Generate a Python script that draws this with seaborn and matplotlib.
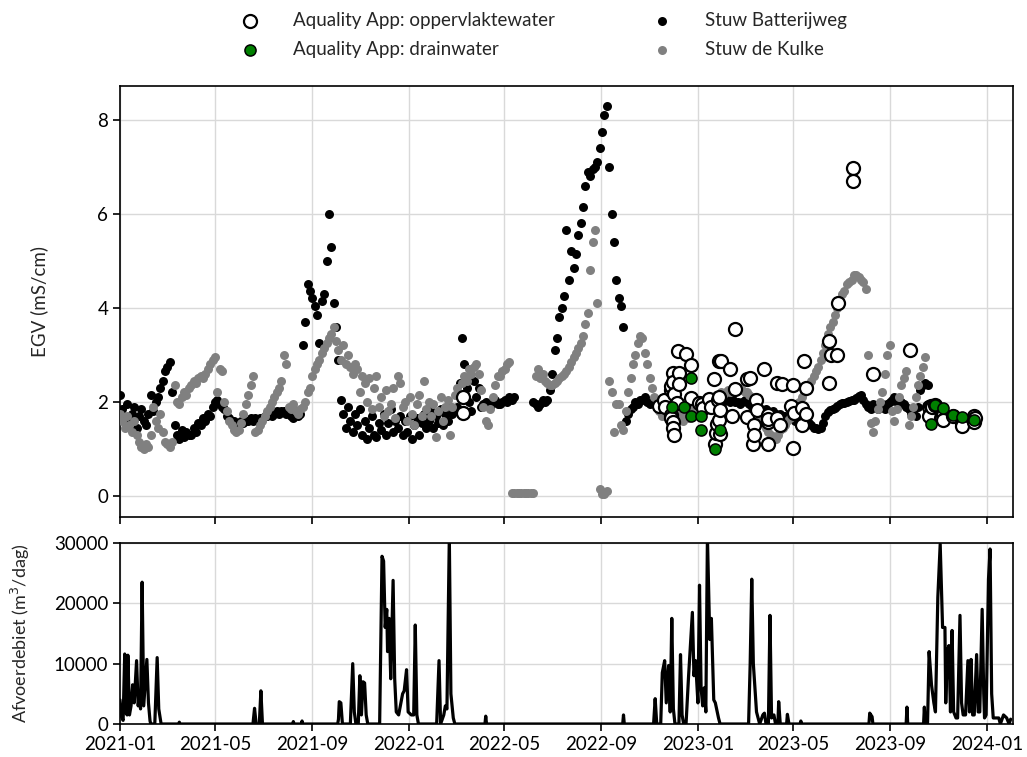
import numpy as np
import pandas as pd
import matplotlib
matplotlib.use("Agg")
import matplotlib.pyplot as plt
import matplotlib.dates as mdates
import seaborn as sns

nan = np.nan

# Stuw Batterijweg: EGV (mS/cm), one reading every 3 days from the start date
batterijweg_start = "2021-01-01"
batterijweg_egv = [
    2.15, 1.85, 1.65, 1.95, 1.55, 1.75, 1.9, 1.45, 1.7, 1.85,
    1.6, 1.5, 1.75, 2.15, 1.8, 2.0, 2.1, 2.3, 2.45, 2.65,
    2.75, 2.85, 2.2, 1.5, 1.3, 1.2, 1.4, 1.25, 1.35, 1.3,
    1.3, 1.45, 1.35, 1.55, 1.5, 1.65, 1.6, 1.75, 1.7, 1.9,
    2.0, 2.05, 1.95, 1.9, 1.85, 1.7, 1.65, 1.6, 1.6, 1.55,
    1.55, 1.6, 1.55, 1.6, 1.6, 1.65, 1.6, 1.65, 1.6, 1.65,
    1.65, 1.7, 1.7, 1.75, 1.7, 1.75, 1.8, 1.75, 1.8, 1.8,
    1.75, 1.8, 1.7, 1.65, 1.8, 1.7, 1.75, 3.2, 3.7, 4.5,
    4.35, 4.2, 4.05, 3.85, 3.25, 4.15, 4.3, 5.0, 6.0, 5.3,
    4.1, 3.6, 2.9, 2.05, 1.75, 1.45, 1.9, 1.6, 1.35, 1.75,
    1.5, 1.85, 1.3, 1.6, 1.2, 1.45, 1.7, 1.3, 1.25, 1.55,
    1.4, 1.75, 1.3, 1.55, 1.85, 1.35, 1.6, 1.45, 1.7, 1.3,
    1.6, 1.35, 1.7, 1.2, 1.5, 1.65, 1.3, 1.55, 1.75, 1.45,
    1.6, 1.8, 1.45, 1.7, 1.55, 1.85, 1.5, 1.75, 1.6, 1.9,
    1.75, 1.8, 1.9, 2.4, 3.35, 2.8, 2.3, 2.0, 1.8, 2.45,
    2.1, 2.3, 1.9, 1.95, 2.0, 1.95, 1.9, 2.0, 2.05, 1.95,
    1.95, 2.0, 2.05, 2.0, 2.1, 2.05, 2.1, nan, nan, nan,
    nan, nan, nan, nan, 2.0, 1.95, 1.9, 1.95, 2.05, 2.0,
    2.05, 2.25, 2.6, 3.1, 3.35, 3.8, 4.0, 4.25, 5.65, 4.6,
    5.2, 4.85, 5.15, 5.55, 5.8, 6.15, 6.6, 6.9, 6.8, 6.95,
    7.0, 7.1, 7.4, 7.75, 8.1, 8.3, 7.0, 6.0, 5.4, 4.6,
    4.2, 4.05, 3.6, 1.6, 1.75, 1.85, 1.9, 2.0, 1.95, 2.05,
    2.05, 2.1, 2.0, 1.95, 2.0, 2.05, 1.9, 1.95, 1.85, 1.9,
    1.9, 1.85, 1.95, 1.9, 1.8, 1.9, 1.95, 1.85, 1.9, 1.95,
    1.9, 1.95, 1.85, 2.0, 1.9, 1.95, 2.0, 1.9, 1.95, 2.0,
    2.0, 2.05, 2.0, 2.05, 2.0, 2.1, 2.05, 2.0, 2.05, 2.0,
    2.0, 1.95, 2.0, 2.05, 2.0, 1.95, 1.9, 1.95, 1.9, 1.85,
    1.85, 1.8, 1.85, 1.8, 1.75, 1.8, 1.75, 1.7, 1.75, 1.7,
    1.7, 1.65, 1.7, 1.65, 1.6, 1.65, 1.6, 1.55, 1.6, 1.55,
    1.55, 1.5, 1.45, 1.45, 1.42, 1.45, 1.55, 1.7, 1.78, 1.82,
    1.85, 1.88, 1.92, 1.95, 1.97, 1.98, 2.0, 2.02, 2.04, 2.05,
    2.08, 2.12, 2.15, 2.05, 1.95, 1.9, 1.85, 1.95, 1.9, 1.85,
    1.9, 1.95, 1.85, 1.95, 2.0, 2.05, 2.1, 2.0, 1.95, 2.0,
    1.95, 1.9, 1.85, 1.75, 1.8, 1.7, 1.9, 2.25, 2.35, 2.4,
    2.35,
]

# Stuw de Kulke: EGV (mS/cm), one reading every 3 days from the start date
kulke_start = "2021-01-01"
kulke_egv = [
    1.75, 1.6, 1.45, 1.7, 1.5, 1.35, 1.6, 1.3, 1.15, 1.05,
    1.0, 1.1, 1.05, 1.3, 1.9, 1.6, 1.45, 1.75, 1.35, 1.15,
    1.1, 1.05, 1.15, 2.35, 2.0, 1.95, 2.1, 2.2, 2.15, 2.3,
    2.35, 2.45, 2.4, 2.5, 2.55, 2.5, 2.6, 2.7, 2.8, 2.9,
    2.95, 2.2, 2.7, 2.65, 2.0, 1.8, 1.6, 1.5, 1.4, 1.35,
    1.4, 1.55, 1.75, 1.95, 2.15, 2.35, 2.55, 1.35, 1.4, 1.5,
    1.6, 1.7, 1.8, 1.9, 2.0, 2.1, 2.2, 2.3, 2.45, 3.0,
    2.8, 1.9, 1.85, 1.95, 1.8, 1.75, 1.85, 1.9, 2.0, 2.2,
    2.3, 2.55, 2.7, 2.8, 2.9, 3.05, 3.15, 3.25, 3.35, 3.45,
    3.6, 3.3, 3.1, 2.9, 3.2, 2.8, 3.0, 2.75, 2.6, 2.8,
    2.7, 2.2, 2.55, 2.4, 2.0, 2.5, 1.85, 2.3, 2.55, 1.9,
    2.1, 1.7, 2.25, 1.8, 1.95, 2.3, 1.65, 2.55, 2.4, 1.9,
    2.0, 1.6, 2.1, 1.75, 1.5, 1.95, 2.15, 1.7, 2.45, 1.85,
    2.0, 1.7, 1.95, 1.25, 1.8, 2.1, 1.6, 1.9, 2.05, 1.3,
    1.9, 2.15, 2.3, 2.1, 2.4, 2.55, 2.45, 2.7, 2.6, 2.75,
    2.8, 2.6, 2.25, 1.9, 1.6, 1.5, 1.85, 2.1, 2.35, 2.55,
    2.55, 2.65, 2.7, 2.8, 2.85, 0.07, 0.07, 0.06, 0.07, 0.07,
    0.07, 0.06, 0.07, 0.07, 0.07, 2.55, 2.7, 2.5, 2.6, 2.45,
    2.4, 2.35, 2.35, 2.4, 2.45, 2.5, 2.55, 2.6, 2.65, 2.75,
    2.85, 2.95, 3.05, 3.15, 3.25, 3.4, 3.65, 3.9, 4.8, 5.4,
    5.65, 4.1, 0.15, 0.05, 0.03, 0.1, 2.45, 2.2, 1.35, 1.95,
    1.95, 1.5, 1.4, 1.8, 2.2, 2.5, 2.8, 3.0, 3.25, 3.4,
    3.35, 3.05, 2.8, 2.5, 2.3, 2.1, 1.95, 1.8, 1.7, 1.85,
    1.7, 1.65, 1.8, 1.6, 1.75, 1.9, 1.7, 1.6, 1.8, 1.65,
    1.7, 1.8, 1.9, 1.95, 2.0, 2.05, 1.95, 2.05, 2.1, 2.05,
    2.1, 2.15, 2.1, 2.2, 2.15, 2.2, 2.25, 2.2, 2.25, 2.3,
    2.25, 2.3, 2.25, 2.2, 2.2, 2.15, 2.1, 2.0, 1.9, 1.75,
    1.65, 1.55, 1.45, 1.35, 1.3, 1.25, 1.2, 1.3, 1.4, 1.45,
    1.5, 1.6, 1.65, 1.75, 1.85, 1.9, 2.0, 2.1, 2.2, 2.3,
    2.35, 2.45, 2.55, 2.65, 2.75, 2.9, 3.05, 3.2, 3.45, 3.6,
    3.7, 3.85, 4.0, 4.15, 4.3, 4.35, 4.5, 4.55, 4.6, 4.7,
    4.7, 4.65, 4.6, 4.55, 4.4, 3.0, 1.55, 1.35, 1.6, 1.85,
    2.0, 2.2, 2.6, 3.0, 3.2, 1.8, 1.6, 1.85, 2.1, 2.35,
    2.5, 2.65, 1.5, 1.7, 1.9, 2.1, 2.35, 2.55, 2.75, 2.95,
]

# Aquality App: oppervlaktewater (surface water samples)
opp_dates = [
    "2022-03-10", "2022-03-10", "2022-11-13", "2022-11-19", "2022-11-21",
    "2022-11-28", "2022-11-28", "2022-11-28", "2022-11-28", "2022-11-30",
    "2022-11-30", "2022-11-30", "2022-11-30", "2022-12-02", "2022-12-02",
    "2022-12-06", "2022-12-07", "2022-12-08", "2022-12-08", "2022-12-17",
    "2022-12-23", "2022-12-23", "2023-01-02", "2023-01-06", "2023-01-08",
    "2023-01-15", "2023-01-17", "2023-01-21", "2023-01-22", "2023-01-24",
    "2023-01-25", "2023-01-26", "2023-01-27", "2023-01-27", "2023-01-27",
    "2023-01-29", "2023-01-29", "2023-01-30", "2023-02-11", "2023-02-13",
    "2023-02-17", "2023-02-17", "2023-03-04", "2023-03-04", "2023-03-08",
    "2023-03-12", "2023-03-13", "2023-03-13", "2023-03-15", "2023-03-17",
    "2023-03-25", "2023-03-30", "2023-03-30", "2023-03-30", "2023-03-30",
    "2023-04-11", "2023-04-11", "2023-04-15", "2023-04-17", "2023-04-28",
    "2023-05-01", "2023-05-01", "2023-05-02", "2023-05-13", "2023-05-13",
    "2023-05-15", "2023-05-17", "2023-05-17", "2023-06-15", "2023-06-15",
    "2023-06-18", "2023-06-26", "2023-06-27", "2023-07-16", "2023-07-16",
    "2023-08-10", "2023-09-26", "2023-10-20", "2023-10-20", "2023-10-22",
    "2023-10-24", "2023-10-28", "2023-11-04", "2023-11-06", "2023-11-06",
    "2023-11-19", "2023-12-01", "2023-12-01", "2023-12-16", "2023-12-16",
    "2023-12-17",
]
opp_egv = [
    2.10, 1.77, 1.91, 2.05, 1.89,
    2.25, 1.72, 2.33, 1.66, 2.61,
    2.42, 1.58, 1.44, 1.30, 2.16,
    1.97, 3.09, 2.61, 2.39, 3.02,
    2.79, 2.08, 1.98, 1.96, 1.87,
    2.07, 1.89, 2.49, 1.10, 1.33,
    1.52, 2.03, 2.88, 2.10, 1.61,
    1.82, 1.31, 2.86, 2.69, 1.70,
    2.28, 3.54, 2.49, 1.68, 2.51,
    1.11, 1.51, 1.30, 2.03, 1.82,
    2.69, 1.72, 1.58, 1.11, 1.63,
    2.40, 1.66, 1.51, 2.39, 1.91,
    2.35, 1.02, 1.77, 1.86, 1.51,
    2.88, 2.30, 1.75, 3.30, 2.40,
    3.00, 3.00, 4.11, 6.98, 6.69,
    2.60, 3.11, 1.90, 1.69, 1.91,
    1.90, 1.94, 1.66, 1.73, 1.62,
    1.70, 1.55, 1.48, 1.69, 1.58,
    1.66,
]

# Aquality App: drainwater
drain_dates = [
    "2022-11-29", "2022-12-15", "2022-12-23", "2022-12-23", "2023-01-05",
    "2023-01-05", "2023-01-22", "2023-01-29", "2023-10-22", "2023-10-28",
    "2023-11-06", "2023-11-19", "2023-12-01", "2023-12-16",
]
drain_egv = [
    1.90, 1.90, 2.50, 1.70, 1.70,
    1.40, 1.00, 1.40, 1.52, 1.93,
    1.87, 1.72, 1.67, 1.62,
]

# Afvoerdebiet (m3/dag)
debiet_dates = [
    "2021-01-01", "2021-01-03", "2021-01-05", "2021-01-07", "2021-01-08", "2021-01-10",
    "2021-01-11", "2021-01-13", "2021-01-15", "2021-01-17", "2021-01-19", "2021-01-22",
    "2021-01-24", "2021-01-26", "2021-01-27", "2021-01-29", "2021-01-31", "2021-02-04",
    "2021-02-06", "2021-02-08", "2021-02-09", "2021-02-14", "2021-02-17", "2021-02-19",
    "2021-02-22", "2021-03-16", "2021-03-17", "2021-03-18", "2021-06-18", "2021-06-20",
    "2021-06-22", "2021-06-26", "2021-06-28", "2021-06-30", "2021-08-07", "2021-08-08",
    "2021-08-09", "2021-08-18", "2021-08-19", "2021-08-20", "2021-10-03", "2021-10-04",
    "2021-10-05", "2021-10-07", "2021-10-09", "2021-10-19", "2021-10-22", "2021-10-24",
    "2021-10-26", "2021-10-29", "2021-10-31", "2021-11-02", "2021-11-04", "2021-11-06",
    "2021-11-08", "2021-11-10", "2021-11-25", "2021-11-28", "2021-11-30", "2021-12-02",
    "2021-12-04", "2021-12-05", "2021-12-07", "2021-12-09", "2021-12-12", "2021-12-14",
    "2021-12-16", "2021-12-19", "2021-12-24", "2021-12-26", "2021-12-29", "2021-12-31",
    "2022-01-04", "2022-01-07", "2022-01-09", "2022-01-11", "2022-01-13", "2022-02-05",
    "2022-02-08", "2022-02-10", "2022-02-14", "2022-02-16", "2022-02-18", "2022-02-21",
    "2022-02-23", "2022-02-26", "2022-02-28", "2022-04-07", "2022-04-08", "2022-04-09",
    "2022-09-28", "2022-09-29", "2022-09-30", "2022-11-06", "2022-11-08", "2022-11-10",
    "2022-11-15", "2022-11-17", "2022-11-20", "2022-11-22", "2022-11-25", "2022-11-27",
    "2022-11-29", "2022-12-01", "2022-12-03", "2022-12-08", "2022-12-10", "2022-12-12",
    "2022-12-14", "2022-12-17", "2022-12-20", "2022-12-25", "2022-12-27", "2022-12-29",
    "2023-01-01", "2023-01-03", "2023-01-05", "2023-01-07", "2023-01-09", "2023-01-11",
    "2023-01-13", "2023-01-16", "2023-01-18", "2023-01-21", "2023-01-23", "2023-01-27",
    "2023-01-29", "2023-03-06", "2023-03-08", "2023-03-10", "2023-03-12", "2023-03-16",
    "2023-03-20", "2023-03-24", "2023-03-26", "2023-03-28", "2023-03-31", "2023-04-02",
    "2023-04-04", "2023-04-07", "2023-04-09", "2023-04-12", "2023-04-13", "2023-04-15",
    "2023-04-23", "2023-04-24", "2023-04-26", "2023-05-10", "2023-05-11", "2023-05-12",
    "2023-08-05", "2023-08-06", "2023-08-09", "2023-08-10", "2023-09-21", "2023-09-22",
    "2023-09-23", "2023-10-13", "2023-10-14", "2023-10-15", "2023-10-18", "2023-10-20",
    "2023-10-23", "2023-10-26", "2023-10-28", "2023-10-31", "2023-11-03", "2023-11-06",
    "2023-11-09", "2023-11-10", "2023-11-12", "2023-11-14", "2023-11-16", "2023-11-18",
    "2023-11-20", "2023-11-23", "2023-11-25", "2023-11-28", "2023-11-30", "2023-12-02",
    "2023-12-05", "2023-12-08", "2023-12-10", "2023-12-12", "2023-12-14", "2023-12-16",
    "2023-12-19", "2023-12-21", "2023-12-23", "2023-12-26", "2023-12-28", "2023-12-29",
    "2023-12-31", "2024-01-03", "2024-01-05", "2024-01-07", "2024-01-09", "2024-01-12",
    "2024-01-16", "2024-01-18", "2024-01-22", "2024-01-26", "2024-01-29", "2024-01-31",
]
debiet = [
    4000, 1200, 600, 11600, 2000, 1500,
    11400, 1500, 3000, 6500, 3500, 10500,
    3000, 5000, 2500, 23500, 3000, 10700,
    3500, 500, 0, 0, 11000, 2500,
    0, 0, 300, 0, 0, 2600,
    0, 0, 5500, 0, 0, 400,
    0, 0, 500, 0, 0, 800,
    3700, 3500, 0, 0, 10000, 2000,
    0, 0, 8000, 1500, 7000, 6800,
    1500, 0, 0, 27800, 27000, 16000,
    19000, 12000, 17500, 7500, 23800, 7500,
    2000, 1500, 5000, 5500, 9000, 2000,
    1500, 1500, 16400, 1500, 0, 0,
    10500, 0, 1500, 3000, 2500, 31000,
    5000, 1000, 0, 0, 1300, 0,
    0, 1500, 0, 0, 4200, 0,
    0, 8500, 10500, 3500, 9700, 2000,
    17500, 2500, 0, 0, 11500, 1500,
    0, 0, 7500, 18500, 8000, 10500,
    3500, 23000, 6000, 3000, 6000, 2000,
    31000, 14000, 17500, 4000, 3500, 1000,
    0, 0, 10000, 24000, 10000, 2000,
    0, 1500, 1800, 0, 0, 18000,
    1000, 1500, 0, 0, 3700, 0,
    0, 1600, 0, 0, 500, 0,
    0, 1800, 1200, 0, 0, 2800,
    0, 0, 2800, 0, 0, 12000,
    6500, 3500, 2000, 21000, 29800, 16000,
    16000, 3500, 12000, 13000, 2000, 15500,
    2000, 1000, 1000, 18000, 3500, 1500,
    1500, 10500, 2000, 10700, 1500, 1500,
    11500, 2000, 2000, 19000, 5000, 1000,
    1500, 24000, 29000, 5000, 1000, 1000,
    1000, 0, 1500, 1000, 0, 800,
]

egv_ticks = [0, 2, 4, 6, 8]
debiet_ticks = [0, 10000, 20000, 30000]

# ---- tables ------------------------------------------------------------
df_batt = pd.DataFrame({
    "datum": pd.date_range(batterijweg_start, periods=len(batterijweg_egv), freq="3D"),
    "egv": batterijweg_egv,
})
df_kulke = pd.DataFrame({
    "datum": pd.date_range(kulke_start, periods=len(kulke_egv), freq="3D"),
    "egv": kulke_egv,
})
df_opp = pd.DataFrame({"datum": pd.to_datetime(opp_dates), "egv": opp_egv})
df_drain = pd.DataFrame({"datum": pd.to_datetime(drain_dates), "egv": drain_egv})
df_q = pd.DataFrame({"datum": pd.to_datetime(debiet_dates), "q": debiet})

# ---- style -------------------------------------------------------------
sns.set_style("ticks")
plt.rcParams["font.family"] = ["Lato", "DejaVu Sans"]
plt.rcParams["font.size"] = 13.5
plt.rcParams["axes.edgecolor"] = "black"
plt.rcParams["axes.linewidth"] = 1.2
plt.rcParams["xtick.color"] = "black"
plt.rcParams["ytick.color"] = "black"

fig = plt.figure(figsize=(10.27, 7.57), dpi=100)
ax1 = fig.add_axes([0.1168, 0.317, 0.8696, 0.5694])
ax2 = fig.add_axes([0.1168, 0.0436, 0.8696, 0.2391], sharex=ax1)

# ---- EGV panel ---------------------------------------------------------
sns.scatterplot(data=df_batt, x="datum", y="egv", ax=ax1, color="black",
                s=42, linewidth=0, label="Stuw Batterijweg", zorder=2)
sns.scatterplot(data=df_kulke, x="datum", y="egv", ax=ax1, color="#808080",
                s=42, linewidth=0, label="Stuw de Kulke", zorder=3)
sns.scatterplot(data=df_opp, x="datum", y="egv", ax=ax1, color="white",
                edgecolor="black", s=88, linewidth=1.6,
                label="Aquality App: oppervlaktewater", zorder=4)
sns.scatterplot(data=df_drain, x="datum", y="egv", ax=ax1, color="green",
                edgecolor="black", s=64, linewidth=1.1,
                label="Aquality App: drainwater", zorder=5)

ax1.set_ylim(-0.45, 8.72)
ax1.set_yticks(egv_ticks)
ax1.set_ylabel("EGV (mS/cm)")
ax1.yaxis.set_label_coords(-0.08, 0.5)
ax1.set_xlabel("")
ax1.grid(True, color="#d9d9d9", linewidth=1)
ax1.set_axisbelow(True)
plt.setp(ax1.get_xticklabels(), visible=False)

handles, labels = ax1.get_legend_handles_labels()
order = [labels.index(n) for n in ["Aquality App: oppervlaktewater",
                                   "Aquality App: drainwater",
                                   "Stuw Batterijweg", "Stuw de Kulke"]]
ax1.legend([handles[i] for i in order], [labels[i] for i in order],
           loc="lower center", bbox_to_anchor=(0.469, 1.048), ncol=2,
           frameon=False, columnspacing=4.7, handletextpad=1.3,
           fontsize=13.5, labelspacing=0.65, borderaxespad=0)

# ---- discharge panel ---------------------------------------------------
sns.lineplot(data=df_q, x="datum", y="q", ax=ax2, color="black",
             linewidth=2.3, estimator=None)
ax2.set_ylim(0, 30000)
ax2.set_yticks(debiet_ticks)
ax2.set_ylabel("Afvoerdebiet (m$^3$/dag)", fontsize=13)
ax2.yaxis.set_label_coords(-0.098, 0.5)
ax2.set_xlabel("")
ax2.grid(True, color="#d9d9d9", linewidth=1)
ax2.set_axisbelow(True)

ax2.set_xlim(pd.Timestamp("2021-01-01"), pd.Timestamp("2024-02-03"))
ax2.xaxis.set_major_locator(mdates.MonthLocator(bymonth=[1, 5, 9]))
ax2.xaxis.set_major_formatter(mdates.DateFormatter("%Y-%m"))

for ax in (ax1, ax2):
    for sp in ax.spines.values():
        sp.set_visible(True)
        sp.set_color("black")
    ax.tick_params(direction="out", length=5, width=1.2, labelsize=13.5)

fig.savefig("out.png", dpi=100)
